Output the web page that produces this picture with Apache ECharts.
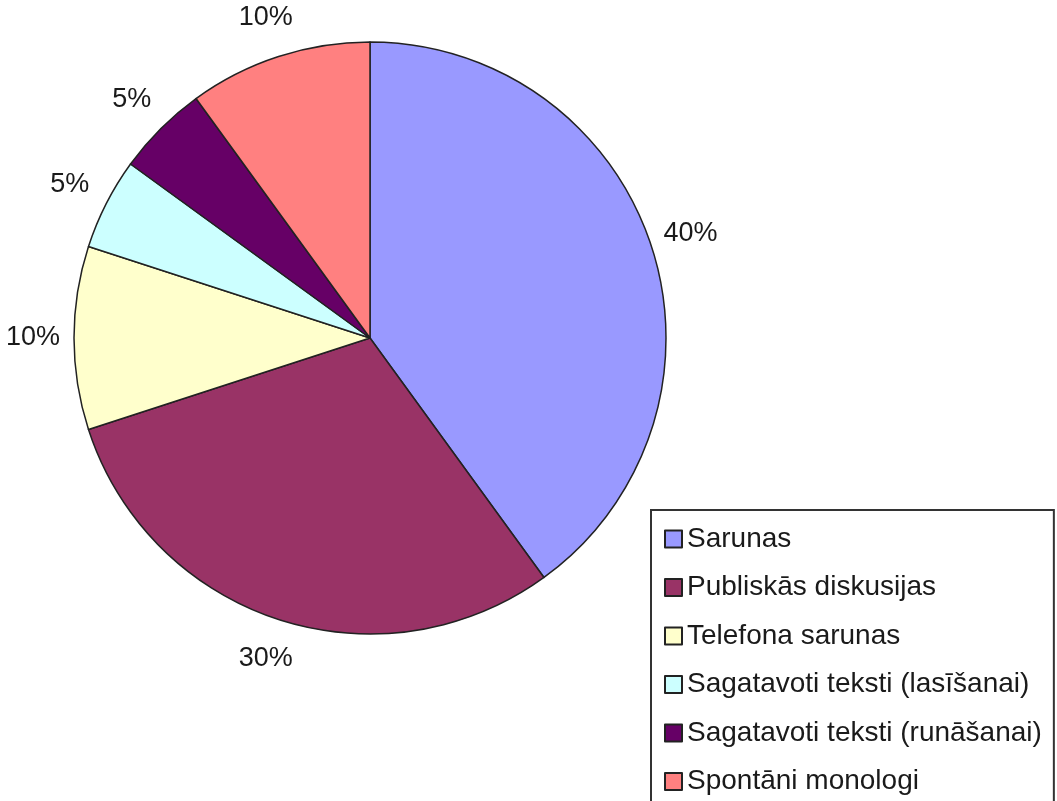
<!DOCTYPE html>
<html>
<head>
<meta charset="utf-8">
<script src="https://cdn.jsdelivr.net/npm/echarts@6/dist/echarts.min.js"></script>
<style>
  html, body { margin: 0; padding: 0; background: #fff; }
  #main { width: 1057px; height: 801px; }
</style>
</head>
<body>
<div id="main"></div>
<script>
// kategorijas un vērtības (procenti)
var categories = ['Sarunas', 'Publiskās diskusijas', 'Telefona sarunas',
  'Sagatavoti teksti (lasīšanai)', 'Sagatavoti teksti (runāšanai)', 'Spontāni monologi'];
var shares = [40, 30, 10, 5, 5, 10];
var colors = ['#9999FF', '#993366', '#FFFFCC', '#CCFFFF', '#660066', '#FF8080'];

var chart = echarts.init(document.getElementById('main'), null, { renderer: 'canvas' });

var pieData = [];
var labelData = [];
for (var i = 0; i < categories.length; i++) {
  pieData.push({ name: categories[i], value: shares[i], itemStyle: { color: colors[i] } });
  labelData.push({ value: shares[i] });   // bez nosaukuma, lai nejauc leģendu
}

var option = {
  backgroundColor: '#fff',
  animation: false,
  textStyle: { fontFamily: 'Liberation Sans, Arial, sans-serif' },
  legend: {
    orient: 'vertical',
    left: 651,
    top: 510,
    height: 1000,   // lai neliek otrā kolonnā
    data: categories,
    icon: 'rect',
    itemWidth: 17,
    itemHeight: 17,
    itemGap: 18.5,
    padding: [14, 12, 40, 13],
    borderColor: '#333',
    borderWidth: 2,
    borderRadius: 0,
    selectedMode: false,
    itemStyle: { borderColor: '#222', borderWidth: 2 },
    textStyle: { fontSize: 28, color: '#1a1a1a', lineHeight: 30, fontFamily: 'Liberation Sans' }
  },
  series: [
    {
      name: 'daļas',
      type: 'pie',
      center: [370, 338],
      radius: [0, 296],
      startAngle: 90,
      clockwise: true,
      avoidLabelOverlap: false,
      silent: true,
      label: { show: false },
      labelLine: { show: false },
      itemStyle: { borderColor: '#222', borderWidth: 1.5 },
      data: pieData
    },
    {
      // neredzams gredzens tikai procentu etiķetēm
      name: 'etiķetes',
      type: 'pie',
      center: [370, 338],
      radius: [300, 368],
      startAngle: 90,
      clockwise: true,
      avoidLabelOverlap: false,
      silent: true,
      itemStyle: { color: 'rgba(0,0,0,0)', borderWidth: 0 },
      label: {
        show: true,
        position: 'inside',
        formatter: '{c}%',
        fontSize: 27,
        color: '#1a1a1a',
        fontFamily: 'Liberation Sans'
      },
      labelLine: { show: false },
      emphasis: { disabled: true },
      data: labelData
    }
  ]
};

chart.setOption(option);
</script>
</body>
</html>
